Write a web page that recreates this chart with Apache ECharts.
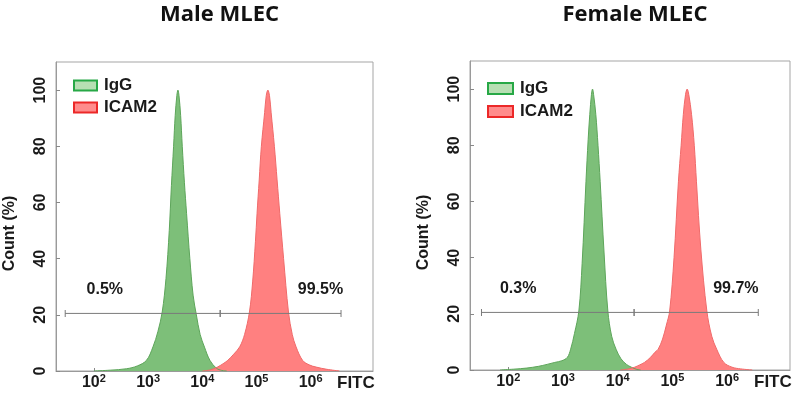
<!DOCTYPE html>
<html><head><meta charset="utf-8">
<script src="https://cdn.jsdelivr.net/npm/echarts@6/dist/echarts.min.js"></script>
<style>html,body{margin:0;padding:0;background:#fff}#c{width:800px;height:415px}</style>
</head><body><div id="c"></div>
<script>
// ---------- data (x = log10 of FITC intensity, y = count %) ----------
const panelTitles = ['Male MLEC', 'Female MLEC'];
const seriesNames = ['IgG', 'ICAM2'];
const xTickExponents = [2, 3, 4, 5, 6];
const yTicks = [0, 20, 40, 60, 80, 100];
const xAxisName = 'FITC';
const yAxisName = 'Count (%)';

const maleIgG = [[2.0,0],[2.3,0.3],[2.6,0.8],[2.8,1.8],[2.97,3.8],[3.09,8.6],[3.18,14],[3.26,21],[3.33,33],[3.39,50],[3.43,66],[3.47,80],[3.50,91],[3.53,98],[3.55,100],[3.57,98],[3.60,91],[3.63,80],[3.67,67],[3.71,56],[3.77,40],[3.83,27],[3.89,20],[3.96,13],[4.04,8.5],[4.14,3.8],[4.26,1.0],[4.36,0.2],[4.45,0]];
const maleICAM2 = [[4.0,0],[4.15,0.4],[4.28,1.4],[4.40,2.8],[4.47,3.8],[4.58,6],[4.69,8.6],[4.78,13],[4.87,21],[4.93,32],[4.98,46],[5.01,56],[5.05,68],[5.09,80],[5.15,92],[5.18,98],[5.21,100],[5.24,98],[5.27,92],[5.33,80],[5.38,68],[5.43,56],[5.50,40],[5.59,21],[5.66,13],[5.73,8.6],[5.85,3.8],[5.97,2.2],[6.10,1.4],[6.30,0.6],[6.53,0]];
const femaleIgG = [[1.85,0],[2.1,0.3],[2.34,0.7],[2.55,1.3],[2.71,2],[2.85,2.7],[2.98,3.3],[3.08,4.5],[3.14,7.4],[3.21,13],[3.29,21],[3.35,38],[3.42,67],[3.46,82],[3.49,91],[3.52,98],[3.54,100],[3.56,98],[3.60,91],[3.64,80],[3.68,67],[3.75,42],[3.82,21],[3.89,12],[3.97,7.4],[4.06,4],[4.16,2],[4.25,1],[4.35,0.2],[4.42,0]];
const femaleICAM2 = [[4.05,0],[4.2,0.4],[4.31,1],[4.40,1.8],[4.49,2.7],[4.60,4.5],[4.68,6.3],[4.74,7.4],[4.82,11],[4.89,16],[4.95,21],[5.03,40],[5.11,67],[5.16,80],[5.20,91],[5.24,98],[5.27,100],[5.30,98],[5.35,91],[5.40,80],[5.44,67],[5.52,43],[5.63,21],[5.72,12],[5.81,7.4],[5.94,2.7],[6.09,1],[6.25,0.4],[6.46,0]];

const gateLevel = 20.5;
const maleGates = [[1.47, 4.33], [4.33, 6.56]];
const femaleGates = [[1.51, 4.30], [4.30, 6.57]];
const maleGateText = ['0.5%', '99.5%'];
const femaleGateText = ['0.3%', '99.7%'];
const maleGateLabelX = [2.2, 6.18];
const femaleGateLabelX = [2.18, 6.16];

// ---------- styling / layout ----------
const FONT = '"Liberation Sans", Arial, sans-serif';
const TXT = '#1a1a1a';
const grids = [
  { left: 56, top: 62, width: 317, height: 309 },
  { left: 470, top: 61, width: 320, height: 309 }
];
const xMin = 1.3, xMax = 7.15, yMax = 110;

const panels = [
  { igg: maleIgG, icam: maleICAM2, gates: maleGates, gtext: maleGateText, gx: maleGateLabelX },
  { igg: femaleIgG, icam: femaleICAM2, gates: femaleGates, gtext: femaleGateText, gx: femaleGateLabelX }
];

const xAxes = grids.map((g, i) => ({
  type: 'value', gridIndex: i, min: xMin, max: xMax,
  axisLine: { show: true, lineStyle: { color: '#9a9a9a', width: 1 } },
  axisTick: { show: true, inside: true, length: 3, customValues: xTickExponents, lineStyle: { color: '#888' } },
  splitLine: { show: false },
  axisLabel: {
    customValues: xTickExponents, margin: 2,
    formatter: v => '{b|10}{s|' + Math.round(v) + '}',
    rich: {
      b: { fontSize: 16, fontWeight: 'bold', fontFamily: FONT, color: TXT, lineHeight: 20 },
      s: { fontSize: 11, fontWeight: 'bold', fontFamily: FONT, color: TXT, lineHeight: 11, verticalAlign: 'top' }
    }
  },
  name: xAxisName, nameLocation: 'end', nameGap: -36,
  nameTextStyle: { fontSize: 17, fontWeight: 'bold', fontFamily: FONT, color: TXT, verticalAlign: 'top', lineHeight: 20, padding: [2, 0, 0, 0] }
}));

const yAxes = grids.map((g, i) => ({
  type: 'value', gridIndex: i, min: 0, max: yMax,
  axisLine: { show: true, lineStyle: { color: '#9a9a9a', width: 1 } },
  axisTick: { show: true, inside: true, length: 4, customValues: yTicks, lineStyle: { color: '#888' } },
  minorTick: { show: false },
  splitLine: { show: false },
  axisLabel: { customValues: yTicks, rotate: 90, margin: 7, fontSize: 16, fontWeight: 'bold', fontFamily: FONT, color: TXT },
  name: yAxisName, nameLocation: 'middle', nameGap: 38, nameRotate: 90,
  nameTextStyle: { fontSize: 16, fontWeight: 'bold', fontFamily: FONT, color: TXT, padding: [0, 34, 0, 0] }
}));

const series = [];
panels.forEach((p, i) => {
  series.push({
    name: seriesNames[0], type: 'line', xAxisIndex: i, yAxisIndex: i, data: p.igg,
    smooth: 0.35, showSymbol: false, symbol: 'none',
    lineStyle: { color: '#5da55a', width: 1 },
    itemStyle: { color: '#7dbf79' },
    areaStyle: { color: '#7dbf79', opacity: 1 }, z: 2
  });
  series.push({
    name: seriesNames[1], type: 'line', xAxisIndex: i, yAxisIndex: i, data: p.icam,
    smooth: 0.35, showSymbol: false, symbol: 'none',
    lineStyle: { color: '#f06a6a', width: 1 },
    itemStyle: { color: '#ff8080' },
    areaStyle: { color: '#ff8080', opacity: 1 }, z: 2
  });
  p.gates.forEach(gr => {
    series.push({
      type: 'line', xAxisIndex: i, yAxisIndex: i,
      data: gr.map(x => [x, gateLevel]),
      symbol: 'rect', symbolSize: [1, 7], showSymbol: true,
      itemStyle: { color: '#7a7a7a' }, lineStyle: { color: '#7a7a7a', width: 1 },
      silent: true, z: 4, animation: false
    });
  });
  series.push({
    type: 'scatter', xAxisIndex: i, yAxisIndex: i,
    data: p.gx.map((x, k) => ({ value: [x, gateLevel], labelText: p.gtext[k] })),
    symbolSize: 0, silent: true, z: 5,
    itemStyle: { opacity: 1, color: TXT },
    label: {
      show: true, position: 'top', distance: 16,
      formatter: prm => prm.data.labelText,
      fontSize: 16, fontWeight: 'bold', fontFamily: FONT, color: TXT, opacity: 1
    }
  });
});

const legendItems = [
  { name: 'IgG', itemStyle: { color: '#b7dfb3', borderColor: '#27a846', borderWidth: 2 } },
  { name: 'ICAM2', itemStyle: { color: '#ff8c8c', borderColor: '#ec2828', borderWidth: 2 } }
];

const option = {
  animation: false,
  backgroundColor: '#fff',
  title: panelTitles.map((t, i) => ({
    text: t, left: grids[i].left + grids[i].width / 2, top: -1, textAlign: 'center',
    textStyle: { fontFamily: '"Open Sans", sans-serif', fontWeight: 'bold', fontSize: 22, color: '#111' }
  })),
  legend: [
    { left: 68, top: 72, orient: 'vertical', icon: 'rect', itemWidth: 23, itemHeight: 10, itemGap: 5,
      selectedMode: false, data: legendItems,
      textStyle: { fontSize: 17, fontWeight: 'bold', fontFamily: FONT, color: TXT, padding: [0, 0, 0, 2] } },
    { left: 482, top: 75, orient: 'vertical', icon: 'rect', itemWidth: 25, itemHeight: 11, itemGap: 6,
      selectedMode: false, data: legendItems,
      textStyle: { fontSize: 17, fontWeight: 'bold', fontFamily: FONT, color: TXT, padding: [0, 0, 0, 2] } }
  ],
  grid: grids.map(g => Object.assign({ show: true, borderColor: '#a5a5a5', borderWidth: 1, backgroundColor: 'transparent' }, g)),
  xAxis: xAxes,
  yAxis: yAxes,
  series: series
};

const chart = echarts.init(document.getElementById('c'), null, { renderer: 'canvas' });
chart.setOption(option);
</script>
</body></html>
